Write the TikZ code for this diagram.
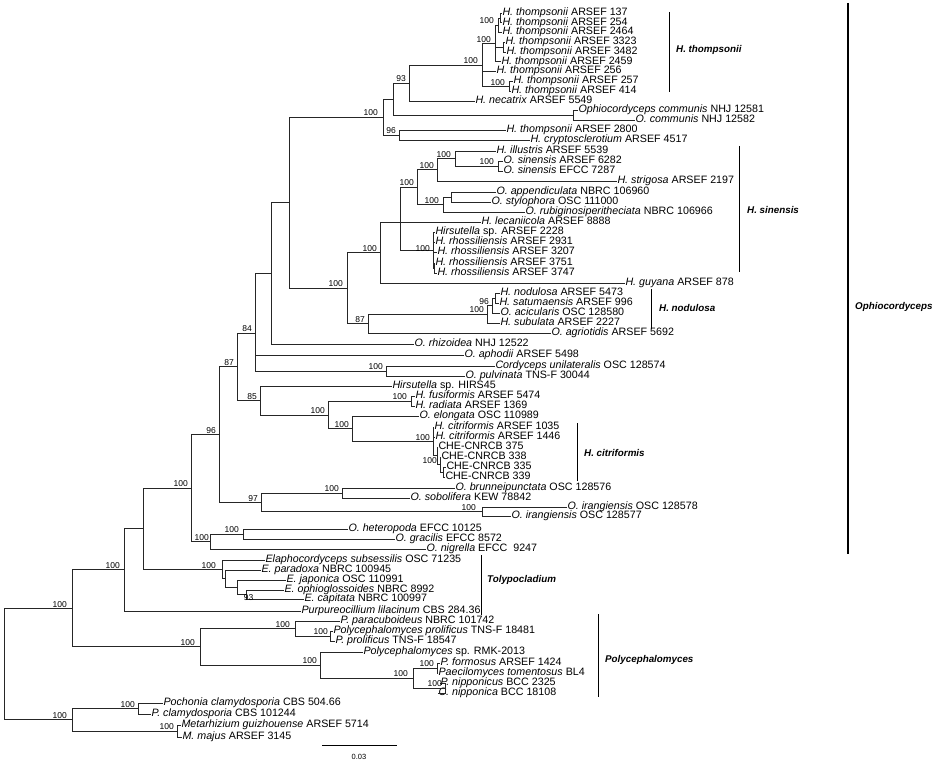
\documentclass[tikz,border=0pt]{standalone}
\usepackage{fontspec}
\setmainfont{Liberation Sans}
\setsansfont{Liberation Sans}
\begin{document}
\begin{tikzpicture}[x=1pt,y=-1pt,
  br/.style={draw=black!85, line width=0.7pt},
  lf/.style={anchor=west, inner sep=0.3pt, font=\fontsize{10.7}{12}\selectfont, text height=6.3pt, text depth=1.8pt},
  bs/.style={anchor=south east, inner sep=0pt, font=\fontsize{8.5}{9}\selectfont},
  cl/.style={anchor=west, inner sep=0pt, font=\fontsize{9.8}{11}\selectfont\bfseries\itshape},
  bar/.style={draw=black, line width=0.8pt}]
\useasboundingbox (0,0) rectangle (934,765);
% ---------------- leaves ----------------
\node[lf] (l1) at (502,13) {\textit{H. thompsonii} ARSEF 137};
\node[lf] (l2) at (502,22.8) {\textit{H. thompsonii} ARSEF 254};
\node[lf] (l3) at (502,32.5) {\textit{H. thompsonii} ARSEF 2464};
\node[lf] (l4) at (505,42.3) {\textit{H. thompsonii} ARSEF 3323};
\node[lf] (l5) at (506,52.1) {\textit{H. thompsonii} ARSEF 3482};
\node[lf] (l6) at (501,61.8) {\textit{H. thompsonii} ARSEF 2459};
\node[lf] (l7) at (496,71.6) {\textit{H. thompsonii} ARSEF 256};
\node[lf] (l8) at (513,81.4) {\textit{H. thompsonii} ARSEF 257};
\node[lf] (l9) at (511,91.2) {\textit{H. thompsonii} ARSEF 414};
\node[lf] (l10) at (475,100.9) {\textit{H. necatrix} ARSEF 5549};
\node[lf] (l11) at (578,110.7) {\textit{Ophiocordyceps communis} NHJ 12581};
\node[lf] (l12) at (635,120.5) {\textit{O. communis} NHJ 12582};
\node[lf] (l13) at (506,130.2) {\textit{H. thompsonii} ARSEF 2800};
\node[lf] (l14) at (530,140) {\textit{H. cryptosclerotium} ARSEF 4517};
\node[lf] (l15) at (496,151) {\textit{H. illustris} ARSEF 5539};
\node[lf] (l16) at (503,161) {\textit{O. sinensis} ARSEF 6282};
\node[lf] (l17) at (503,171) {\textit{O. sinensis} EFCC 7287};
\node[lf] (l18) at (617,181) {\textit{H. strigosa} ARSEF 2197};
\node[lf] (l19) at (496,192) {\textit{O. appendiculata} NBRC 106960};
\node[lf] (l20) at (491,202) {\textit{O. stylophora} OSC 111000};
\node[lf] (l21) at (525,212) {\textit{O. rubiginosiperitheciata} NBRC 106966};
\node[lf] (l22) at (481,222) {\textit{H. lecaniicola} ARSEF 8888};
\node[lf] (l23) at (435,232) {\textit{Hirsutella} sp. ARSEF 2228};
\node[lf] (l24) at (435,242) {\textit{H. rhossiliensis} ARSEF 2931};
\node[lf] (l25) at (437,252) {\textit{H. rhossiliensis} ARSEF 3207};
\node[lf] (l26) at (435,263) {\textit{H. rhossiliensis} ARSEF 3751};
\node[lf] (l27) at (437,273) {\textit{H. rhossiliensis} ARSEF 3747};
\node[lf] (l28) at (625,283) {\textit{H. guyana} ARSEF 878};
\node[lf] (l29) at (500,293) {\textit{H. nodulosa} ARSEF 5473};
\node[lf] (l30) at (499,303) {\textit{H. satumaensis} ARSEF 996};
\node[lf] (l31) at (500,313) {\textit{O. acicularis} OSC 128580};
\node[lf] (l32) at (500,323) {\textit{H. subulata} ARSEF 2227};
\node[lf] (l33) at (551,333) {\textit{O. agriotidis} ARSEF 5692};
\node[lf] (l34) at (414,344) {\textit{O. rhizoidea} NHJ 12522};
\node[lf] (l35) at (464,355) {\textit{O. aphodii} ARSEF 5498};
\node[lf] (l36) at (495,366) {\textit{Cordyceps unilateralis} OSC 128574};
\node[lf] (l37) at (465,376) {\textit{O. pulvinata} TNS-F 30044};
\node[lf] (l38) at (392,386) {\textit{Hirsutella} sp. HIRS45};
\node[lf] (l39) at (415,396) {\textit{H. fusiformis} ARSEF 5474};
\node[lf] (l40) at (415,406) {\textit{H. radiata} ARSEF 1369};
\node[lf] (l41) at (419,416) {\textit{O. elongata} OSC 110989};
\node[lf] (l42) at (434,427) {\textit{H. citriformis} ARSEF 1035};
\node[lf] (l43) at (435,437) {\textit{H. citriformis} ARSEF 1446};
\node[lf] (l44) at (438,447) {CHE-CNRCB 375};
\node[lf] (l45) at (441,457) {CHE-CNRCB 338};
\node[lf] (l46) at (446,467) {CHE-CNRCB 335};
\node[lf] (l47) at (445,477) {CHE-CNRCB 339};
\node[lf] (l48) at (455,488) {\textit{O. brunneipunctata} OSC 128576};
\node[lf] (l49) at (410,498) {\textit{O. sobolifera} KEW 78842};
\node[lf] (l50) at (567,507) {\textit{O. irangiensis} OSC 128578};
\node[lf] (l51) at (511,516.5) {\textit{O. irangiensis} OSC 128577};
\node[lf] (l52) at (348,529) {\textit{O. heteropoda} EFCC 10125};
\node[lf] (l53) at (395,539) {\textit{O. gracilis} EFCC 8572};
\node[lf] (l54) at (426,549) {\textit{O. nigrella} EFCC\ \ 9247};
\node[lf] (l55) at (265,560) {\textit{Elaphocordyceps subsessilis} OSC 71235};
\node[lf] (l56) at (261,570) {\textit{E. paradoxa} NBRC 100945};
\node[lf] (l57) at (286,580) {\textit{E. japonica} OSC 110991};
\node[lf] (l58) at (284,590) {\textit{E. ophioglossoides} NBRC 8992};
\node[lf] (l59) at (304,599.5) {\textit{E. capitata} NBRC 100997};
\node[lf] (l60) at (301,611) {\textit{Purpureocillium lilacinum} CBS 284.36};
\node[lf] (l61) at (340,621) {\textit{P. paracuboideus} NBRC 101742};
\node[lf] (l62) at (333,631) {\textit{Polycephalomyces prolificus} TNS-F 18481};
\node[lf] (l63) at (335,641) {\textit{P. prolificus} TNS-F 18547};
\node[lf] (l64) at (363,652) {\textit{Polycephalomyces} sp. RMK-2013};
\node[lf] (l65) at (440,663) {\textit{P. formosus} ARSEF 1424};
\node[lf] (l66) at (438,673) {\textit{Paecilomyces tomentosus} BL4};
\node[lf] (l67) at (440,683) {\textit{P. nipponicus} BCC 2325};
\node[lf] (l68) at (438,693) {\textit{C. nipponica} BCC 18108};
\node[lf] (l69) at (163,703) {\textit{Pochonia clamydosporia} CBS 504.66};
\node[lf] (l70) at (151,714) {\textit{P. clamydosporia} CBS 101244};
\node[lf] (l71) at (181,725) {\textit{Metarhizium guizhouense} ARSEF 5714};
\node[lf] (l72) at (182,737) {\textit{M. majus} ARSEF 3145};
% ---------------- internal nodes ----------------
\coordinate (n1a) at (500,17.9);
\coordinate (n1) at (498,25.2);
\coordinate (n2) at (503,47.2);
\coordinate (nX) at (495,43.5);
\coordinate (nP257) at (509,86.3);
\coordinate (nTh) at (482,64.9);
\coordinate (n93) at (409,82.9);
\coordinate (nCom) at (573,115.6);
\coordinate (n393) at (393,99.25);
\coordinate (n96) at (399,135.1);
\coordinate (nC1) at (383,117.2);
\coordinate (nS) at (498,166);
\coordinate (nI) at (455,158.5);
\coordinate (nSt) at (437,169.75);
\coordinate (nAs) at (451,197);
\coordinate (nR) at (443,204.5);
\coordinate (n417) at (417,187.1);
\coordinate (nRh2) at (434,268);
\coordinate (nRh) at (433,250);
\coordinate (n399) at (400,222);
\coordinate (nN380) at (380,252.5);
\coordinate (nSat) at (495,298);
\coordinate (nNodp) at (492,305.5);
\coordinate (nNod) at (487,314.25);
\coordinate (n368) at (368,323.6);
\coordinate (n347) at (347,288);
\coordinate (n289) at (289,202.6);
\coordinate (n271) at (271,273.3);
\coordinate (nCP) at (386,371);
\coordinate (n84) at (255,333);
\coordinate (nFR) at (411,401);
\coordinate (nCHE3) at (443,472);
\coordinate (nCHE2) at (440,464.5);
\coordinate (nCHE1) at (437,455.75);
\coordinate (nCit) at (433,441.4);
\coordinate (n352) at (352,428.7);
\coordinate (n328) at (328,414.85);
\coordinate (n85) at (260,400.4);
\coordinate (n87) at (237,366.7);
\coordinate (nBS) at (342,493);
\coordinate (nIr) at (482,511.75);
\coordinate (n97) at (261,502.4);
\coordinate (n219) at (219,434.5);
\coordinate (nHG) at (243,534);
\coordinate (nH210) at (210,541.5);
\coordinate (nO191) at (191,488);
\coordinate (n93t) at (246,594.75);
\coordinate (nJap) at (237,587.4);
\coordinate (nPar) at (225,578.7);
\coordinate (nTol) at (222,569.35);
\coordinate (n143) at (143,528.7);
\coordinate (n123) at (124,569.8);
\coordinate (nPro) at (330,636);
\coordinate (nQ) at (295,628.5);
\coordinate (nT1) at (437,668);
\coordinate (nT2) at (445,688);
\coordinate (nS2) at (413,678);
\coordinate (nRr) at (320,665);
\coordinate (nPoly) at (200,646.75);
\coordinate (nA) at (72,608.3);
\coordinate (nPoc) at (138,708.5);
\coordinate (nMet) at (177,731);
\coordinate (nOu) at (72,719.75);
\coordinate (nRoot) at (4,664);
% ---------------- branches ----------------
\draw[br] (nRoot) |- (nA) (nRoot) |- (nOu);
\draw[br] (nA) |- (n123) (nA) |- (nPoly);
\draw[br] (nOu) |- (nPoc) (nOu) |- (nMet);
\draw[br] (nPoc) |- (l69.west) (nPoc) |- (l70.west);
\draw[br] (nMet) |- (l71.west) (nMet) |- (l72.west);
\draw[br] (nPoly) |- (nQ) (nPoly) |- (nRr);
\draw[br] (nQ) |- (l61.west) (nQ) |- (nPro);
\draw[br] (nPro) |- (l62.west) (nPro) |- (l63.west);
\draw[br] (nRr) |- (l64.west) (nRr) |- (nS2);
\draw[br] (nS2) |- (nT1) (nS2) |- (nT2);
\draw[br] (nT1) |- (l65.west) (nT1) |- (l66.west);
\draw[br] (nT2) |- (l67.west) (nT2) |- (l68.west);
\draw[br] (n123) |- (n143) (n123) |- (l60.west);
\draw[br] (n143) |- (nO191) (n143) |- (nTol);
\draw[br] (nTol) |- (l55.west) (nTol) |- (nPar);
\draw[br] (nPar) |- (l56.west) (nPar) |- (nJap);
\draw[br] (nJap) |- (l57.west) (nJap) |- (n93t);
\draw[br] (n93t) |- (l58.west) (n93t) |- (l59.west);
\draw[br] (nO191) |- (n219) (nO191) |- (nH210);
\draw[br] (nH210) |- (nHG) (nH210) |- (l54.west);
\draw[br] (nHG) |- (l52.west) (nHG) |- (l53.west);
\draw[br] (n219) |- (n87) (n219) |- (n97);
\draw[br] (n97) |- (nBS) (n97) |- (nIr);
\draw[br] (nBS) |- (l48.west) (nBS) |- (l49.west);
\draw[br] (nIr) |- (l50.west) (nIr) |- (l51.west);
\draw[br] (n87) |- (n84) (n87) |- (n85);
\draw[br] (n85) |- (l38.west) (n85) |- (n328);
\draw[br] (n328) |- (nFR) (n328) |- (n352);
\draw[br] (nFR) |- (l39.west) (nFR) |- (l40.west);
\draw[br] (n352) |- (l41.west) (n352) |- (nCit);
\draw[br] (nCit) |- (l42.west) (nCit) |- (l43.west) (nCit) |- (nCHE1);
\draw[br] (nCHE1) |- (l44.west) (nCHE1) |- (nCHE2);
\draw[br] (nCHE2) |- (l45.west) (nCHE2) |- (nCHE3);
\draw[br] (nCHE3) |- (l46.west) (nCHE3) |- (l47.west);
\draw[br] (n84) |- (n271) (n84) |- (l35.west) (n84) |- (nCP);
\draw[br] (nCP) |- (l36.west) (nCP) |- (l37.west);
\draw[br] (n271) |- (n289) (n271) |- (l34.west);
\draw[br] (n289) |- (nC1) (n289) |- (n347);
\draw[br] (nC1) |- (n393) (nC1) |- (n96);
\draw[br] (n393) |- (n93) (n393) |- (nCom);
\draw[br] (n93) |- (nTh) (n93) |- (l10.west);
\draw[br] (nTh) |- (nX) (nTh) |- (l7.west) (nTh) |- (nP257);
\draw[br] (nX) |- (n1) (nX) |- (n2) (nX) |- (l6.west);
\draw[br] (n1) |- (n1a) (n1) |- (l3.west);
\draw[br] (n1a) |- (l1.west) (n1a) |- (l2.west);
\draw[br] (n2) |- (l4.west) (n2) |- (l5.west);
\draw[br] (nP257) |- (l8.west) (nP257) |- (l9.west);
\draw[br] (nCom) |- (l11.west) (nCom) |- (l12.west);
\draw[br] (n96) |- (l13.west) (n96) |- (l14.west);
\draw[br] (n347) |- (nN380) (n347) |- (n368);
\draw[br] (nN380) |- (n399) (nN380) |- (l28.west);
\draw[br] (n399) |- (n417) (n399) |- (l22.west) (n399) |- (nRh);
\draw[br] (n417) |- (nSt) (n417) |- (nR);
\draw[br] (nSt) |- (nI) (nSt) |- (l18.west);
\draw[br] (nI) |- (l15.west) (nI) |- (nS);
\draw[br] (nS) |- (l16.west) (nS) |- (l17.west);
\draw[br] (nR) |- (nAs) (nR) |- (l21.west);
\draw[br] (nAs) |- (l19.west) (nAs) |- (l20.west);
\draw[br] (nRh) |- (l23.west) (nRh) |- (l24.west) (nRh) |- (l25.west) (nRh) |- (nRh2);
\draw[br] (nRh2) |- (l26.west) (nRh2) |- (l27.west);
\draw[br] (n368) |- (nNod) (n368) |- (l33.west);
\draw[br] (nNod) |- (nNodp) (nNod) |- (l32.west);
\draw[br] (nNodp) |- (nSat) (nNodp) |- (l31.west);
\draw[br] (nSat) |- (l29.west) (nSat) |- (l30.west);
% ---------------- bootstrap values ----------------
\node[bs] (b_n1) at ([xshift=-4pt,yshift=1pt]n1) {100};
\node[bs] (b_nX) at ([xshift=-4pt,yshift=1pt]nX) {100};
\node[bs] (b_nTh) at ([xshift=-4pt,yshift=1pt]nTh) {100};
\node[bs] (b_nP257) at ([xshift=-4pt,yshift=1pt]nP257) {100};
\node[bs] (b_n93) at ([xshift=-3pt,yshift=1pt]n93) {93};
\node[bs] (b_nC1) at ([xshift=-5pt,yshift=1pt]nC1) {100};
\node[bs] (b_n96) at ([xshift=-3pt,yshift=1pt]n96) {96};
\node[bs] (b_nS) at ([xshift=-4pt,yshift=1pt]nS) {100};
\node[bs] (b_nI) at ([xshift=-4pt,yshift=1pt]nI) {100};
\node[bs] (b_nSt) at ([xshift=-3pt,yshift=1pt]nSt) {100};
\node[bs] (b_nR) at ([xshift=-4pt,yshift=1pt]nR) {100};
\node[bs] (b_n417) at ([xshift=-3pt,yshift=1pt]n417) {100};
\node[bs] (b_nRh) at ([xshift=-3pt,yshift=-2pt]nRh) {100};
\node[bs] (b_nN380) at ([xshift=-3pt,yshift=1pt]nN380) {100};
\node[bs] (b_nNodp) at ([xshift=-3pt,yshift=1pt]nNodp) {96};
\node[bs] (b_nNod) at ([xshift=-3pt,yshift=1pt]nNod) {100};
\node[bs] (b_n368) at ([xshift=-3pt,yshift=1pt]n368) {87};
\node[bs] (b_n347) at ([xshift=-4pt,yshift=1pt]n347) {100};
\node[bs] (b_nCP) at ([xshift=-3pt,yshift=1pt]nCP) {100};
\node[bs] (b_n84) at ([xshift=-3pt,yshift=1pt]n84) {84};
\node[bs] (b_n87) at ([xshift=-3pt,yshift=1pt]n87) {87};
\node[bs] (b_n85) at ([xshift=-3pt,yshift=1pt]n85) {85};
\node[bs] (b_nFR) at ([xshift=-4pt,yshift=1pt]nFR) {100};
\node[bs] (b_n328) at ([xshift=-3pt,yshift=1pt]n328) {100};
\node[bs] (b_n352) at ([xshift=-3pt,yshift=1pt]n352) {100};
\node[bs] (b_nCit) at ([xshift=-3pt,yshift=1pt]nCit) {100};
\node[bs] (b_nCHE2) at ([xshift=-3pt,yshift=1pt]nCHE2) {100};
\node[bs] (b_nBS) at ([xshift=-3pt,yshift=1pt]nBS) {100};
\node[bs] (b_nIr) at ([xshift=-6pt,yshift=1pt]nIr) {100};
\node[bs] (b_n97) at ([xshift=-3pt,yshift=1pt]n97) {97};
\node[bs] (b_n219) at ([xshift=-3pt,yshift=1pt]n219) {96};
\node[bs] (b_nHG) at ([xshift=-4pt,yshift=1pt]nHG) {100};
\node[bs] (b_nH210) at ([xshift=-1pt,yshift=1pt]nH210) {100};
\node[bs] (b_nO191) at ([xshift=-3pt,yshift=1pt]nO191) {100};
\node[bs] (b_n93t) at ([xshift=7.5pt,yshift=-6.5pt]n93t) {93};
\node[bs] (b_nTol) at ([xshift=-6pt,yshift=1pt]nTol) {100};
\node[bs] (b_n123) at ([xshift=-4pt,yshift=1pt]n123) {100};
\node[bs] (b_nPro) at ([xshift=-2pt,yshift=1pt]nPro) {100};
\node[bs] (b_nQ) at ([xshift=-5pt,yshift=1pt]nQ) {100};
\node[bs] (b_nT1) at ([xshift=-3pt,yshift=1pt]nT1) {100};
\node[bs] (b_nT2) at ([xshift=-3pt,yshift=1pt]nT2) {100};
\node[bs] (b_nS2) at ([xshift=-5pt,yshift=1pt]nS2) {100};
\node[bs] (b_nRr) at ([xshift=-3pt,yshift=1pt]nRr) {100};
\node[bs] (b_nPoly) at ([xshift=-5pt,yshift=1pt]nPoly) {100};
\node[bs] (b_nA) at ([xshift=-5pt,yshift=1pt]nA) {100};
\node[bs] (b_nOu) at ([xshift=-5pt,yshift=1pt]nOu) {100};
\node[bs] (b_nPoc) at ([xshift=-3pt,yshift=1pt]nPoc) {100};
\node[bs] (b_nMet) at ([xshift=-3pt,yshift=1pt]nMet) {100};
% ---------------- clade bars ----------------
\coordinate (thA) at (669,12); \coordinate (thB) at (669,92);
\draw[bar] (thA) -- (thB);
\node[cl] (thL) at (676,50) {H. thompsonii};
\coordinate (siA) at (739,146); \coordinate (siB) at (739,272);
\draw[bar] (siA) -- (siB);
\node[cl] (siL) at (747,210) {H. sinensis};
\coordinate (noA) at (651,289); \coordinate (noB) at (651,329);
\draw[bar] (noA) -- (noB);
\node[cl] (noL) at (659,308) {H. nodulosa};
\coordinate (ciA) at (577,423); \coordinate (ciB) at (577,481);
\draw[bar] (ciA) -- (ciB);
\node[cl] (ciL) at (584,453) {H. citriformis};
\coordinate (toA) at (481,555); \coordinate (toB) at (481,615);
\draw[bar] (toA) -- (toB);
\node[cl] (toL) at (487,580) {Tolypocladium};
\coordinate (poA) at (598,614); \coordinate (poB) at (598,697);
\draw[bar] (poA) -- (poB);
\node[cl] (poL) at (605,660) {Polycephalomyces};
\coordinate (opA) at (848,3); \coordinate (opB) at (848,554);
\draw[bar, line width=1.1pt] (opA) -- (opB);
\node[cl] (opL) at (855,307) {Ophiocordyceps};
% ---------------- scale bar ----------------
\coordinate (sbA) at (322,745); \coordinate (sbB) at (397,745);
\draw[bar, line width=1pt] (sbA) -- (sbB);
\node[font=\fontsize{7.5}{9}\selectfont, inner sep=0pt] (sbL) at (359,757) {0.03};
\end{tikzpicture}
\end{document}
